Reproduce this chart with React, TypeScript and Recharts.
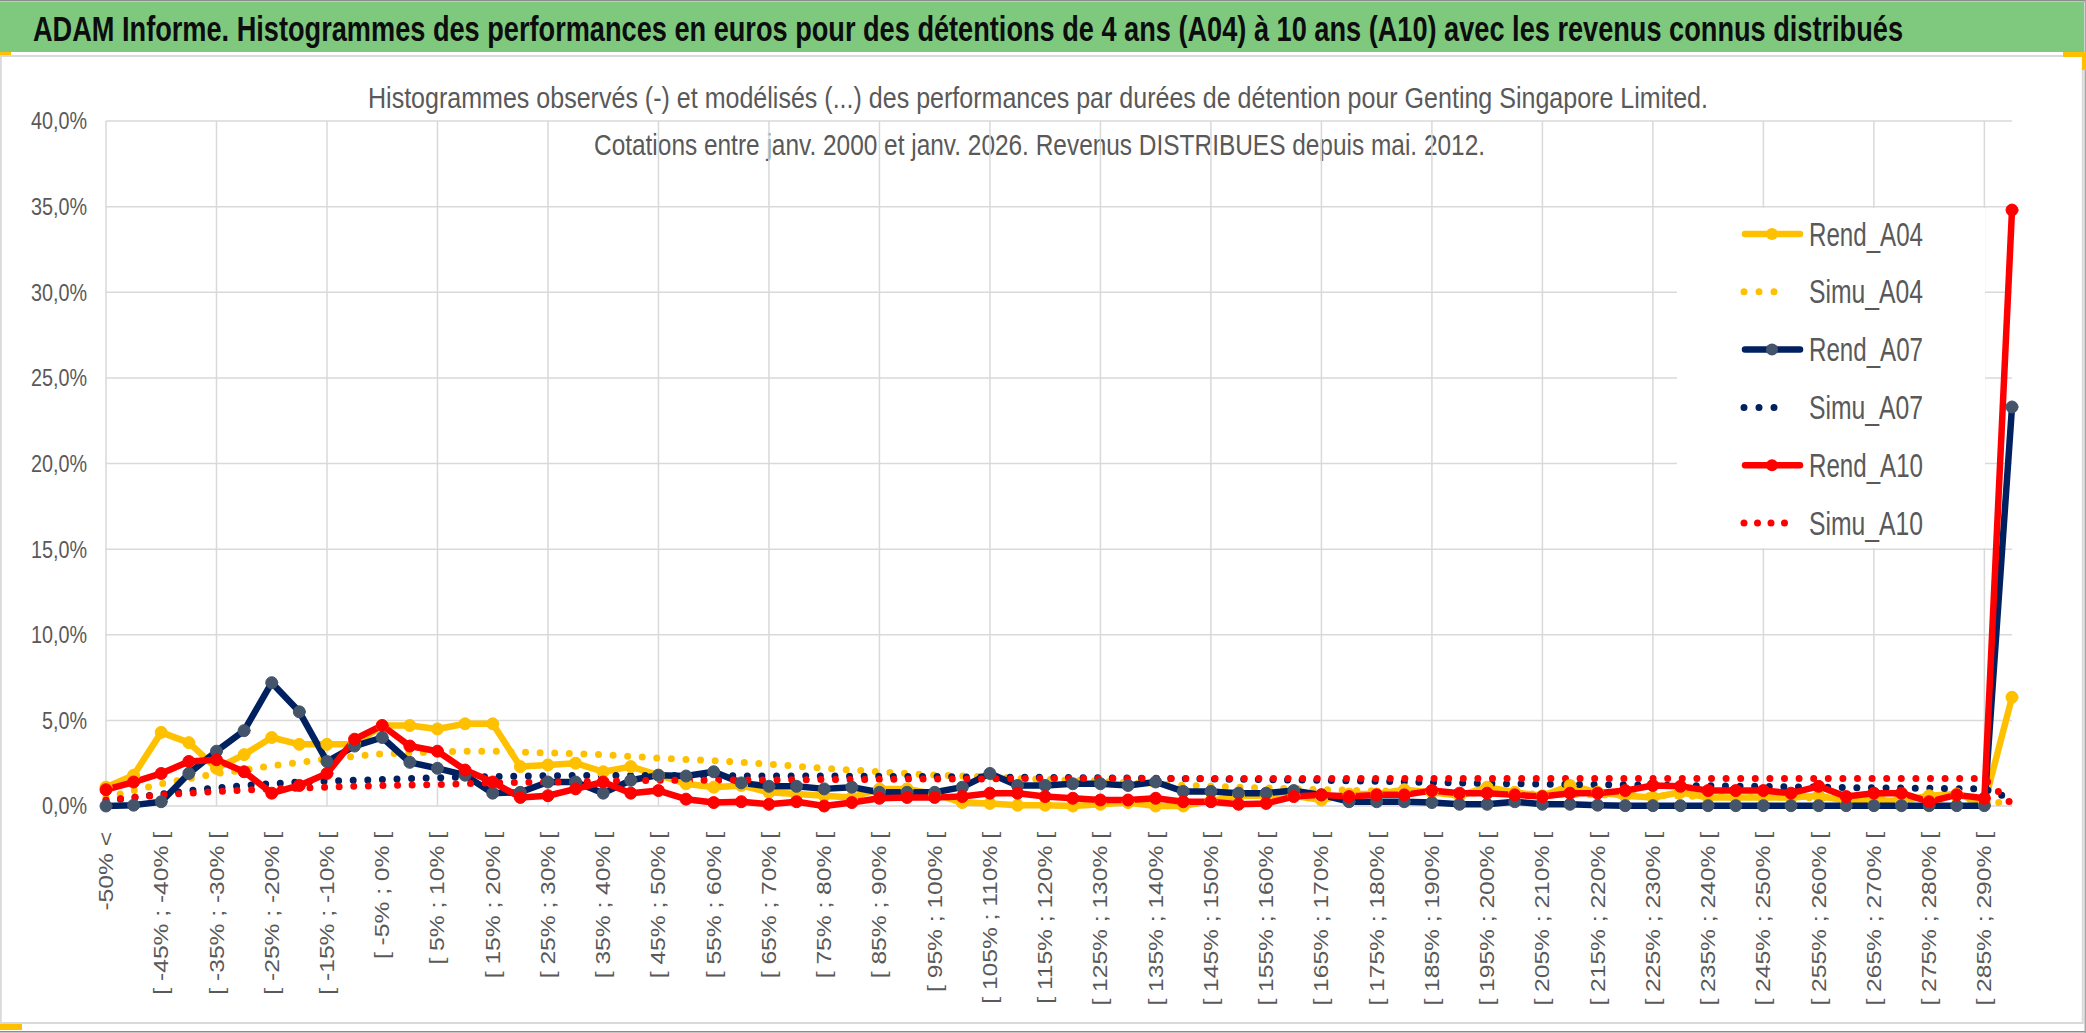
import React from "react";
import {
  LineChart,
  Line,
  XAxis,
  YAxis,
  CartesianGrid,
  Legend,
} from "recharts";

// classes de performance (axe X)
const CATEGORIES = [
  "-50% <",
  "[ -50% ; -45% [", "[ -45% ; -40% [", "[ -40% ; -35% [", "[ -35% ; -30% [", "[ -30% ; -25% [",
  "[ -25% ; -20% [", "[ -20% ; -15% [", "[ -15% ; -10% [", "[ -10% ; -5% [", "[ -5% ; 0% [",
  "[ 0% ; 5% [", "[ 5% ; 10% [", "[ 10% ; 15% [", "[ 15% ; 20% [", "[ 20% ; 25% [",
  "[ 25% ; 30% [", "[ 30% ; 35% [", "[ 35% ; 40% [", "[ 40% ; 45% [", "[ 45% ; 50% [",
  "[ 50% ; 55% [", "[ 55% ; 60% [", "[ 60% ; 65% [", "[ 65% ; 70% [", "[ 70% ; 75% [",
  "[ 75% ; 80% [", "[ 80% ; 85% [", "[ 85% ; 90% [", "[ 90% ; 95% [", "[ 95% ; 100% [",
  "[ 100% ; 105% [", "[ 105% ; 110% [", "[ 110% ; 115% [", "[ 115% ; 120% [", "[ 120% ; 125% [",
  "[ 125% ; 130% [", "[ 130% ; 135% [", "[ 135% ; 140% [", "[ 140% ; 145% [", "[ 145% ; 150% [",
  "[ 150% ; 155% [", "[ 155% ; 160% [", "[ 160% ; 165% [", "[ 165% ; 170% [", "[ 170% ; 175% [",
  "[ 175% ; 180% [", "[ 180% ; 185% [", "[ 185% ; 190% [", "[ 190% ; 195% [", "[ 195% ; 200% [",
  "[ 200% ; 205% [", "[ 205% ; 210% [", "[ 210% ; 215% [", "[ 215% ; 220% [", "[ 220% ; 225% [",
  "[ 225% ; 230% [", "[ 230% ; 235% [", "[ 235% ; 240% [", "[ 240% ; 245% [", "[ 245% ; 250% [",
  "[ 250% ; 255% [", "[ 255% ; 260% [", "[ 260% ; 265% [", "[ 265% ; 270% [", "[ 270% ; 275% [",
  "[ 275% ; 280% [", "[ 280% ; 285% [", "[ 285% ; 290% [",
  "290% >",
];

// valeurs en %
const REND_A04 = [
  1.1, 1.8, 4.3, 3.7, 2.2, 3.0, 4.0, 3.6, 3.6, 3.6,
  4.7, 4.7, 4.5, 4.8, 4.8, 2.3, 2.4, 2.5, 2.0, 2.3,
  1.8, 1.3, 1.1, 1.2, 0.8, 0.7, 0.6, 0.5, 1.0, 1.0,
  0.7, 0.2, 0.15, 0.05, 0.05, 0.0, 0.1, 0.2, 0.0, 0.0,
  0.3, 0.6, 0.6, 0.6, 0.35, 0.7, 0.7, 0.95, 0.8, 0.6,
  1.1, 0.8, 0.6, 1.2, 0.8, 0.6, 0.5, 0.8, 0.5, 0.5,
  0.5, 0.5, 0.6, 0.3, 0.3, 0.3, 0.6, 0.7, 0.15, 6.35,
];
const SIMU_A04 = [
  0.5, 0.9, 1.3, 1.6, 1.9, 2.1, 2.35, 2.55, 2.75, 2.9,
  3.05, 3.1, 3.15, 3.2, 3.2, 3.15, 3.1, 3.05, 3.0, 2.9,
  2.8, 2.72, 2.65, 2.55, 2.45, 2.32, 2.2, 2.1, 2.0, 1.9,
  1.8, 1.75, 1.7, 1.62, 1.55, 1.5, 1.45, 1.35, 1.3, 1.2,
  1.15, 1.1, 1.05, 1.0, 0.95, 0.92, 0.88, 0.85, 0.8, 0.77,
  0.74, 0.72, 0.7, 0.67, 0.65, 0.62, 0.6, 0.58, 0.56, 0.54,
  0.52, 0.5, 0.48, 0.46, 0.45, 0.43, 0.42, 0.4, 0.38, 0.05,
];
const REND_A07 = [
  0.0, 0.05, 0.25, 1.9, 3.2, 4.4, 7.2, 5.5, 2.6, 3.5,
  4.0, 2.55, 2.2, 1.8, 0.75, 0.8, 1.4, 1.4, 0.75, 1.5,
  1.8, 1.75, 2.0, 1.35, 1.15, 1.15, 1.0, 1.1, 0.8, 0.8,
  0.8, 1.1, 1.9, 1.2, 1.2, 1.3, 1.3, 1.2, 1.4, 0.85,
  0.85, 0.75, 0.75, 0.9, 0.65, 0.25, 0.25, 0.25, 0.2, 0.1,
  0.1, 0.25, 0.1, 0.1, 0.05, 0.02, 0.02, 0.02, 0.02, 0.02,
  0.02, 0.02, 0.02, 0.02, 0.02, 0.02, 0.02, 0.02, 0.02, 23.3,
];
const SIMU_A07 = [
  0.3, 0.5, 0.7, 0.9, 1.05, 1.2, 1.3, 1.4, 1.45, 1.5,
  1.55, 1.6, 1.65, 1.7, 1.72, 1.75, 1.77, 1.78, 1.78, 1.78,
  1.78, 1.78, 1.77, 1.76, 1.75, 1.75, 1.75, 1.74, 1.73, 1.72,
  1.72, 1.7, 1.7, 1.68, 1.67, 1.66, 1.65, 1.63, 1.62, 1.6,
  1.58, 1.56, 1.54, 1.52, 1.5, 1.47, 1.44, 1.41, 1.38, 1.35,
  1.32, 1.3, 1.28, 1.26, 1.25, 1.24, 1.22, 1.2, 1.18, 1.16,
  1.14, 1.12, 1.1, 1.08, 1.06, 1.05, 1.03, 1.01, 1.0, 0.4,
];
const REND_A10 = [
  0.95, 1.4, 1.9, 2.6, 2.7, 2.0, 0.75, 1.2, 1.9, 3.9,
  4.7, 3.5, 3.2, 2.1, 1.4, 0.5, 0.6, 1.0, 1.4, 0.75,
  0.9, 0.4, 0.2, 0.25, 0.1, 0.25, 0.0, 0.2, 0.45, 0.5,
  0.5, 0.55, 0.75, 0.75, 0.55, 0.45, 0.35, 0.35, 0.45, 0.25,
  0.25, 0.1, 0.15, 0.55, 0.65, 0.55, 0.65, 0.65, 0.9, 0.75,
  0.75, 0.65, 0.55, 0.75, 0.75, 0.9, 1.2, 1.15, 0.9, 0.9,
  0.9, 0.75, 1.15, 0.55, 0.75, 0.75, 0.25, 0.65, 0.45, 34.8,
];
const SIMU_A10 = [
  0.35, 0.5, 0.65, 0.75, 0.85, 0.92, 1.0, 1.05, 1.1, 1.15,
  1.2, 1.22, 1.25, 1.3, 1.35, 1.38, 1.4, 1.42, 1.45, 1.47,
  1.5, 1.5, 1.5, 1.52, 1.52, 1.53, 1.55, 1.55, 1.56, 1.57,
  1.57, 1.58, 1.58, 1.6, 1.6, 1.6, 1.6, 1.6, 1.6, 1.6,
  1.6, 1.6, 1.6, 1.6, 1.6, 1.6, 1.6, 1.6, 1.6, 1.6,
  1.6, 1.6, 1.6, 1.6, 1.6, 1.6, 1.6, 1.6, 1.6, 1.6,
  1.6, 1.6, 1.6, 1.6, 1.6, 1.6, 1.6, 1.6, 1.6, 0.1,
];

const Y_TICKS = [0, 5, 10, 15, 20, 25, 30, 35, 40];

const TITLE =
  "ADAM Informe. Histogrammes des performances en euros pour des détentions de 4 ans (A04) à 10 ans (A10) avec les revenus connus distribués";
const SUBTITLE_1 =
  "Histogrammes observés (-) et modélisés (...) des performances par durées de détention pour Genting Singapore Limited.";
const SUBTITLE_2 =
  "Cotations entre janv. 2000 et janv. 2026. Revenus DISTRIBUES depuis mai. 2012.";

const YELLOW = "#FFC000";
const NAVY = "#002060";
const RED = "#FF0000";

const SERIES = [
  { key: "rendA04", name: "Rend_A04", color: YELLOW, marker: YELLOW, dotted: false },
  { key: "simuA04", name: "Simu_A04", color: YELLOW, marker: YELLOW, dotted: true, dots: 4 },
  { key: "rendA07", name: "Rend_A07", color: NAVY, marker: "#44546A", dotted: false },
  { key: "simuA07", name: "Simu_A07", color: NAVY, marker: NAVY, dotted: true, dots: 4 },
  { key: "rendA10", name: "Rend_A10", color: RED, marker: RED, dotted: false },
  { key: "simuA10", name: "Simu_A10", color: RED, marker: RED, dotted: true, dots: 5 },
];

const data = CATEGORIES.map((cat, i) => ({
  cat,
  rendA04: REND_A04[i],
  simuA04: SIMU_A04[i],
  rendA07: REND_A07[i],
  simuA07: SIMU_A07[i],
  rendA10: REND_A10[i],
  simuA10: SIMU_A10[i],
}));

const FONT = "'Liberation Sans', Arial, sans-serif";
const GREY_TEXT = "#595959";

const fmtPct = (v: number) => `${v.toFixed(1).replace(".", ",")}%`;

const XTick = (props: any) => {
  const { x, y, payload } = props;
  return (
    <g transform={`translate(${x},${y})`}>
      <text
        transform="rotate(-90) scale(1.23,1)"
        textAnchor="end"
        dy="0.35em"
        fontSize={20}
        fontFamily={FONT}
        fill={GREY_TEXT}
      >
        {payload.value}
      </text>
    </g>
  );
};

const YTick = (props: any) => {
  const { x, y, payload } = props;
  return (
    <g transform={`translate(${x},${y}) scale(0.9,1.1)`}>
      <text textAnchor="end" dy="0.35em" fontSize={22} fontFamily={FONT} fill={GREY_TEXT}>
        {fmtPct(payload.value)}
      </text>
    </g>
  );
};

// grille verticale toutes les 4 classes
const everyFourth = ({ xAxis, offset }: any) => {
  const picked = CATEGORIES.filter((_, i) => i % 4 === 0);
  if (xAxis && typeof xAxis.scale === "function") {
    return picked.map((c) => xAxis.scale(c));
  }
  const step = offset.width / (CATEGORIES.length - 1);
  return CATEGORIES.map((_, i) => i)
    .filter((i) => i % 4 === 0)
    .map((i) => offset.left + i * step);
};

const LegendBox = () => (
  <div style={{ width: 308, height: 340, background: "#fff" }}>
    <svg width={308} height={340}>
      {SERIES.map((s, k) => {
        const cy = 26 + k * 57.8;
        const gap = s.dots === 5 ? 13.5 : 15;
        return (
          <g key={s.key}>
            {s.dotted ? (
              <line
                x1={67}
                x2={67 + ((s.dots || 4) - 1) * gap}
                y1={cy}
                y2={cy}
                stroke={s.color}
                strokeWidth={7}
                strokeLinecap="round"
                strokeDasharray={`0 ${gap}`}
              />
            ) : (
              <>
                <line x1={68} x2={123} y1={cy} y2={cy} stroke={s.color} strokeWidth={6.5} strokeLinecap="round" />
                <circle cx={95} cy={cy} r={6} fill={s.marker} />
              </>
            )}
            <g transform={`translate(132,${cy + 11.5}) scale(1,1.18)`}>
              <text
                x={0}
                y={0}
                fontSize={28}
                fontFamily={FONT}
                fill={GREY_TEXT}
                textLength={114}
                lengthAdjust="spacingAndGlyphs"
              >
                {s.name}
              </text>
            </g>
          </g>
        );
      })}
    </svg>
  </div>
);

const Frame = () => (
  <svg width={2086} height={1033} style={{ position: "absolute", left: 0, top: 0 }}>
    <rect x={0} y={0} width={2086} height={1033} fill="#fff" />
    <rect x={0} y={0} width={2086} height={1.5} fill="#8c8c8c" />
    <rect x={0} y={2} width={2084} height={50} fill="#7ec97e" />
    <rect x={0.75} y={56} width={2082} height={967} fill="none" stroke="#d9d9d9" strokeWidth={2} />
    <rect x={0} y={1031} width={2086} height={1.5} fill="#8c8c8c" />
    <rect x={2084.5} y={0} width={1.5} height={1033} fill="#a6a6a6" />
    <rect x={0} y={52} width={11} height={3} fill={YELLOW} />
    <rect x={0} y={1024} width={22} height={6} fill={YELLOW} />
    <rect x={2063} y={52} width={23} height={5} fill={YELLOW} />
    <rect x={2082} y={52} width={4} height={18} fill={YELLOW} />
    <g transform="translate(33,41) scale(1,1.35)">
      <text
        x={0}
        y={0}
        fontSize={26}
        fontWeight="bold"
        fontFamily={FONT}
        fill="#0d0d0d"
        textLength={1870}
        lengthAdjust="spacingAndGlyphs"
      >
        {TITLE}
      </text>
    </g>
    <g transform="translate(368,108) scale(1,1.28)">
      <text
        x={0}
        y={0}
        fontSize={23}
        fontFamily={FONT}
        fill={GREY_TEXT}
        textLength={1340}
        lengthAdjust="spacingAndGlyphs"
      >
        {SUBTITLE_1}
      </text>
    </g>
    <g transform="translate(594,155) scale(1,1.28)">
      <text
        x={0}
        y={0}
        fontSize={23}
        fontFamily={FONT}
        fill={GREY_TEXT}
        textLength={891}
        lengthAdjust="spacingAndGlyphs"
      >
        {SUBTITLE_2}
      </text>
    </g>
  </svg>
);

export default function App() {
  return (
    <div style={{ position: "absolute", left: 0, top: 0, width: 2086, height: 1033 }}>
      <Frame />
      <div style={{ position: "absolute", left: 0, top: 0 }}>
        <LineChart
          width={2086}
          height={1033}
          data={data}
          margin={{ top: 121, right: 74, bottom: 0, left: 6 }}
        >
          <CartesianGrid
            stroke="#d9d9d9"
            strokeWidth={1.5}
            verticalCoordinatesGenerator={everyFourth}
          />
          <XAxis
            dataKey="cat"
            interval={1}
            height={227}
            axisLine={false}
            tickLine={false}
            tickSize={0}
            tickMargin={26}
            tick={<XTick />}
          />
          <YAxis
            type="number"
            domain={[0, 40]}
            ticks={Y_TICKS}
            width={100}
            axisLine={false}
            tickLine={false}
            tickSize={0}
            tickMargin={19}
            tick={<YTick />}
          />
          <Legend
            layout="vertical"
            align="center"
            verticalAlign="middle"
            wrapperStyle={{ left: 1677, top: 208, width: 308, height: 340 }}
            content={<LegendBox />}
          />
          {SERIES.map((s) =>
            s.dotted ? (
              <Line
                key={s.key}
                dataKey={s.key}
                name={s.name}
                stroke={s.color}
                strokeWidth={7}
                strokeLinecap="round"
                strokeDasharray="0 14.6"
                dot={false}
                activeDot={false}
                isAnimationActive={false}
              />
            ) : (
              <Line
                key={s.key}
                dataKey={s.key}
                name={s.name}
                stroke={s.color}
                strokeWidth={6.5}
                strokeLinejoin="round"
                strokeLinecap="round"
                dot={{ r: 6, fill: s.marker, stroke: s.marker, strokeWidth: 1 }}
                activeDot={false}
                isAnimationActive={false}
              />
            )
          )}
        </LineChart>
      </div>
    </div>
  );
}
